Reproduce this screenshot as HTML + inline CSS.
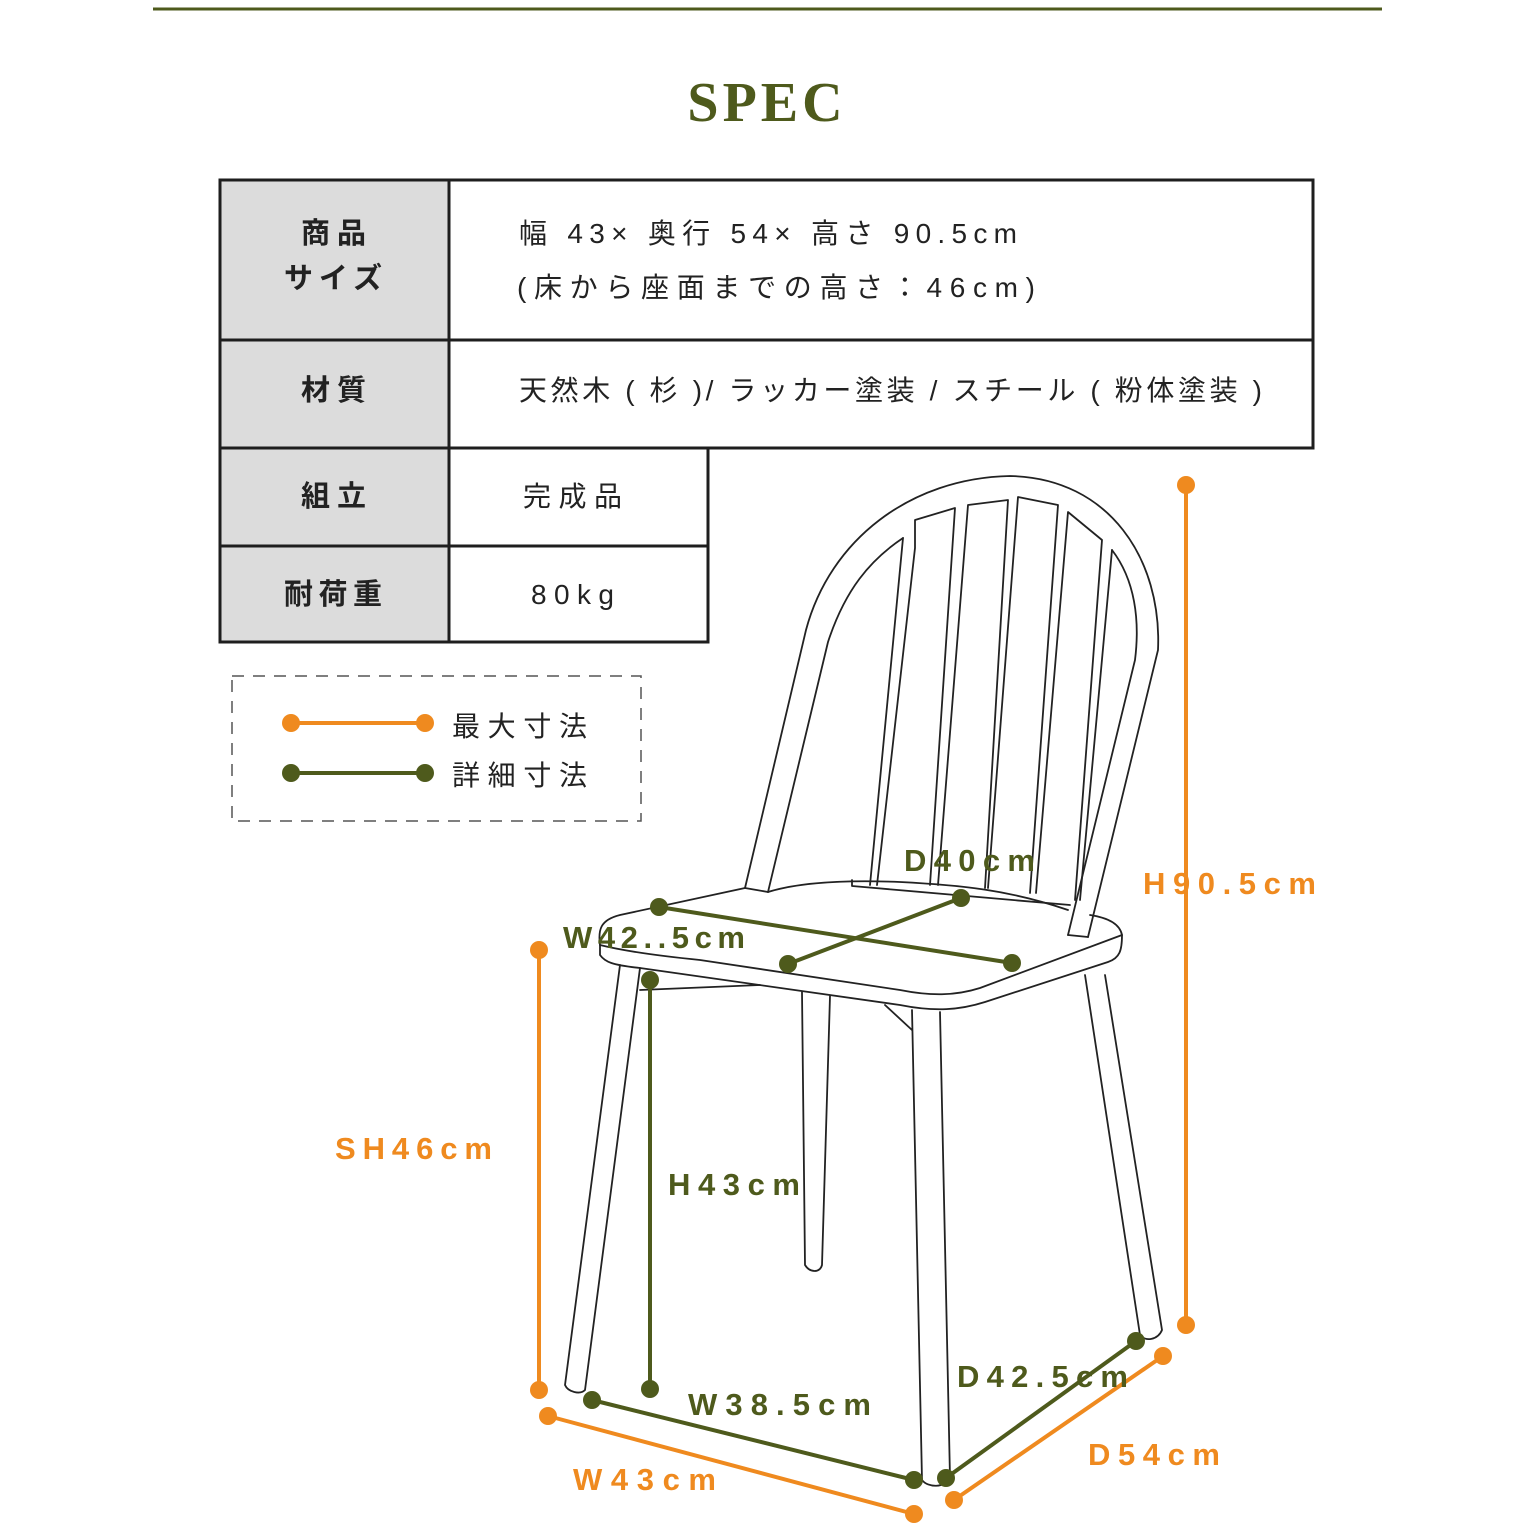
<!DOCTYPE html>
<html><head><meta charset="utf-8"><style>
html,body{margin:0;padding:0;background:#fff;}
svg{display:block;}
.jp{font-family:"Liberation Sans","Noto Sans CJK JP",sans-serif;}
.lab{font-family:"Liberation Sans","Noto Sans CJK JP",sans-serif;font-weight:bold;font-size:29px;}
.dim{font-family:"Liberation Sans",sans-serif;font-weight:bold;font-size:31px;}
</style></head><body>
<svg width="1536" height="1536" viewBox="0 0 1536 1536" xmlns="http://www.w3.org/2000/svg">
<line x1="153" y1="9" x2="1382" y2="9" stroke="#4e5a1c" stroke-width="3"/>
<text x="767" y="121" text-anchor="middle" font-family="Liberation Serif,serif" font-weight="bold" font-size="56" fill="#4e5a1c" letter-spacing="4">SPEC</text>

<!-- table -->
<rect x="220" y="180" width="229" height="462" fill="#dcdcdc"/>
<g fill="none" stroke="#1e1e1e" stroke-width="3">
<path d="M220,180 H1313 V448 H708 V642 H220 Z"/>
<line x1="449" y1="180" x2="449" y2="642"/>
<line x1="220" y1="340" x2="1313" y2="340"/>
<line x1="220" y1="448" x2="708" y2="448"/>
<line x1="220" y1="546" x2="708" y2="546"/>
</g>
<g class="lab" fill="#222">
<text x="301" y="243" textLength="65" lengthAdjust="spacing">商品</text>
<text x="284" y="288" textLength="98" lengthAdjust="spacing">サイズ</text>
<text x="301" y="400" textLength="65" lengthAdjust="spacing">材質</text>
<text x="301" y="506" textLength="65" lengthAdjust="spacing">組立</text>
<text x="284" y="604" textLength="98" lengthAdjust="spacing">耐荷重</text>
</g>
<g class="jp" fill="#222" font-size="28">
<text x="519" y="243" textLength="498" lengthAdjust="spacing">幅 43× 奥行 54× 高さ 90.5cm</text>
<text x="517" y="297" textLength="518" lengthAdjust="spacing">(床から座面までの高さ：46cm)</text>
<text x="519" y="400" textLength="743" lengthAdjust="spacing">天然木 ( 杉 )/ ラッカー塗装 / スチール ( 粉体塗装 )</text>
<text x="523" y="506" textLength="99" lengthAdjust="spacing">完成品</text>
<text x="531" y="604" textLength="83" lengthAdjust="spacing">80kg</text>
</g>

<!-- legend -->
<rect x="232" y="676" width="409" height="145" fill="none" stroke="#555" stroke-width="1.5" stroke-dasharray="12,9"/>
<line x1="291" y1="723" x2="425" y2="723" stroke="#ef8a1f" stroke-width="4"/>
<circle cx="291" cy="723" r="9" fill="#ef8a1f"/><circle cx="425" cy="723" r="9" fill="#ef8a1f"/>
<line x1="291" y1="773" x2="425" y2="773" stroke="#4e5a1c" stroke-width="4"/>
<circle cx="291" cy="773" r="9" fill="#4e5a1c"/><circle cx="425" cy="773" r="9" fill="#4e5a1c"/>
<text class="jp" x="452" y="736" font-size="28" fill="#222" textLength="135" lengthAdjust="spacing">最大寸法</text>
<text class="jp" x="452" y="785" font-size="28" fill="#222" textLength="135" lengthAdjust="spacing">詳細寸法</text>

<!-- chair -->
<g fill="none" stroke="#222" stroke-width="1.8" stroke-linejoin="round" stroke-linecap="round">
<!-- hoop outer -->
<path d="M745,888 L806,630 C830,540 910,478 1010,476 C1110,478 1162,560 1158,650 L1088,937"/>
<!-- hoop inner -->
<path d="M768,892 L828,642 C845,590 870,560 903,538"/>
<path d="M1112,550 C1135,580 1140,620 1135,660 L1068,935"/>
<path d="M745,888 L768,892"/>
<path d="M1088,937 L1068,935"/>
<!-- slats -->
<path d="M870,885 L903,538"/>
<path d="M877,885 L915,548 L915,520 L955,508 L930,885"/>
<path d="M985,888 L1008,500 L968,505 L938,885"/>
<path d="M988,888 L1018,497 L1058,505 L1030,893"/>
<path d="M1036,893 L1068,512 L1102,540 L1075,900"/>
<path d="M1080,900 L1112,550"/>
<path d="M852,880 L852,886 L1070,905"/>
<!-- seat -->
<path d="M745,888 L620,915 C600,920 598,930 600,945 L600,955 C605,962 612,965 640,968 L900,1005 C935,1012 960,1010 985,1002 L1108,962 C1120,958 1122,950 1122,935 C1120,925 1110,918 1090,915"/>
<path d="M600,945 C620,950 650,955 700,960 L900,990 C930,996 955,996 980,988 L1122,935"/>
<path d="M768,892 C800,882 850,880 900,882 C960,885 1010,890 1068,910"/>
<!-- legs -->
<path d="M620,965 L565,1385 C568,1392 580,1395 585,1390 L640,968"/>
<path d="M912,1010 L922,1480 C928,1488 945,1488 950,1478 L940,1012"/>
<path d="M802,992 L805,1265 C810,1273 820,1273 822,1265 L830,996"/>
<path d="M1085,975 L1140,1335 C1145,1342 1158,1340 1162,1330 L1105,975"/>
<path d="M640,990 L760,985"/>
<path d="M885,1005 L912,1030"/>
</g>

<!-- dimension lines -->
<g stroke="#ef8a1f" stroke-width="4" fill="#ef8a1f">
<line x1="1186" y1="485" x2="1186" y2="1325"/>
<circle cx="1186" cy="485" r="9" stroke="none"/><circle cx="1186" cy="1325" r="9" stroke="none"/>
<line x1="539" y1="950" x2="539" y2="1390"/>
<circle cx="539" cy="950" r="9" stroke="none"/><circle cx="539" cy="1390" r="9" stroke="none"/>
<line x1="548" y1="1416" x2="914" y2="1514"/>
<circle cx="548" cy="1416" r="9" stroke="none"/><circle cx="914" cy="1514" r="9" stroke="none"/>
<line x1="954" y1="1500" x2="1163" y2="1356"/>
<circle cx="954" cy="1500" r="9" stroke="none"/><circle cx="1163" cy="1356" r="9" stroke="none"/>
</g>
<g stroke="#4e5a1c" stroke-width="4" fill="#4e5a1c">
<line x1="659" y1="907" x2="1012" y2="963"/>
<circle cx="659" cy="907" r="9" stroke="none"/><circle cx="1012" cy="963" r="9" stroke="none"/>
<line x1="961" y1="898" x2="788" y2="964"/>
<circle cx="961" cy="898" r="9" stroke="none"/><circle cx="788" cy="964" r="9" stroke="none"/>
<line x1="650" y1="980" x2="650" y2="1389"/>
<circle cx="650" cy="980" r="9" stroke="none"/><circle cx="650" cy="1389" r="9" stroke="none"/>
<line x1="592" y1="1400" x2="914" y2="1480"/>
<circle cx="592" cy="1400" r="9" stroke="none"/><circle cx="914" cy="1480" r="9" stroke="none"/>
<line x1="946" y1="1478" x2="1136" y2="1341"/>
<circle cx="946" cy="1478" r="9" stroke="none"/><circle cx="1136" cy="1341" r="9" stroke="none"/>
</g>

<g class="dim" fill="#4e5a1c">
<text x="904" y="871" textLength="131" lengthAdjust="spacing">D40cm</text>
<text x="563" y="948" textLength="182" lengthAdjust="spacing">W42..5cm</text>
<text x="668" y="1195" textLength="132" lengthAdjust="spacing">H43cm</text>
<text x="688" y="1415" textLength="183" lengthAdjust="spacing">W38.5cm</text>
<text x="957" y="1387" textLength="171" lengthAdjust="spacing">D42.5cm</text>
</g>
<g class="dim" fill="#ef8a1f">
<text x="1143" y="894" textLength="173" lengthAdjust="spacing">H90.5cm</text>
<text x="335" y="1159" textLength="157" lengthAdjust="spacing">SH46cm</text>
<text x="573" y="1490" textLength="143" lengthAdjust="spacing">W43cm</text>
<text x="1088" y="1465" textLength="132" lengthAdjust="spacing">D54cm</text>
</g>
</svg>
</body></html>
